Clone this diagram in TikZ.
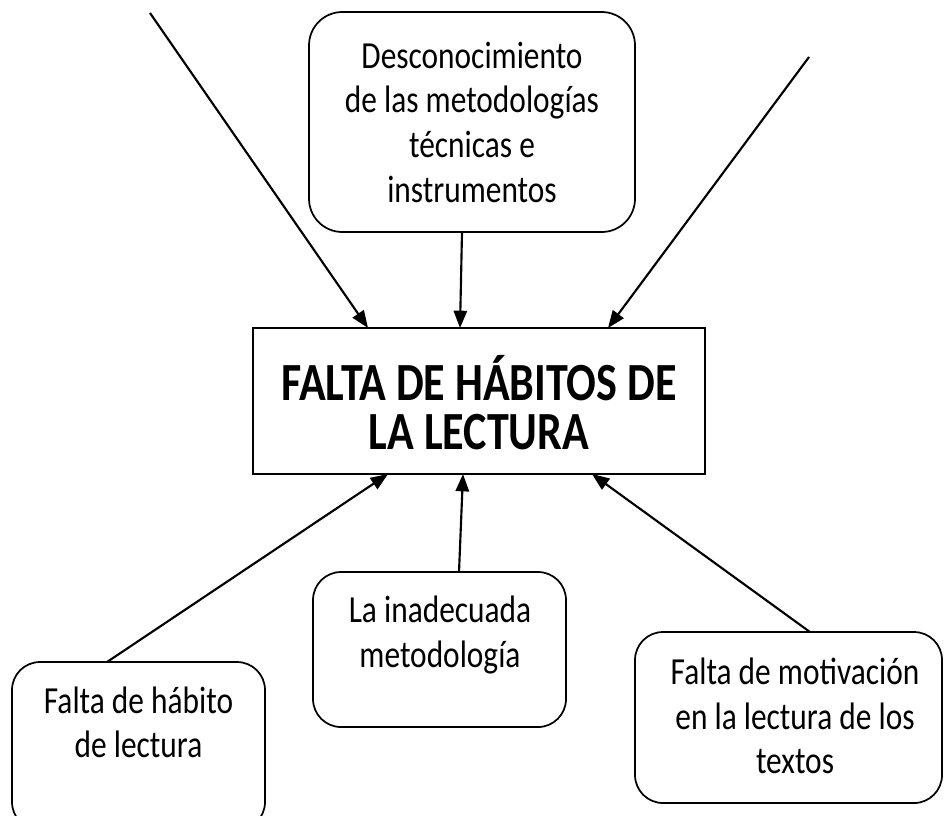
\documentclass[tikz,border=0pt]{standalone}
\usepackage{fontspec}
\setmainfont{Carlito}[FakeStretch=0.82]
\usetikzlibrary{arrows.meta,fit}
\begin{document}
\begin{tikzpicture}[x=0.75pt,y=-0.75pt,
  boxline/.style={draw,line width=1.3pt,inner sep=0pt,outer sep=0pt},
  rbox/.style={boxline,rounded corners=21pt},
  tbox/.style={boxline,rounded corners=25pt},
  txt/.style={anchor=north,inner sep=0pt,align=center,font=\fontsize{28.7}{33.5}\selectfont},
  ttl/.style={anchor=north,inner sep=0pt,align=center,font=\fontsize{40.3}{37}\selectfont\bfseries},
  conn/.style={line width=1.6pt,-{Triangle[length=13pt,width=10pt]}}]
\useasboundingbox (0,0) rectangle (944,815);
\clip (0,0) rectangle (944,815);
% boxes
\node[tbox,fit={(309,12) (635,232)}] (des) {};
\node[boxline,fit={(253,328) (705,474)}] (main) {};
\node[rbox,fit={(313,572) (566,727)}] (ina) {};
\node[rbox,fit={(12,662) (265,830)}] (hab) {};
\node[rbox,fit={(635,632) (942,803)}] (mot) {};
% texts
\node[txt] (destxt) at (472,38.5) {\rule{0pt}{22pt}Desconocimiento\\de las metodologías\\técnicas e\\instrumentos};
\node[ttl] (maintxt) at (479,355) {\rule{0pt}{28pt}FALTA DE HÁBITOS DE\\LA LECTURA};
\node[txt] (inatxt) at (440,593) {\rule{0pt}{22pt}La inadecuada\\metodología};
\node[txt] (habtxt) at (138.5,683.5) {\rule{0pt}{22pt}Falta de hábito\\de lectura};
\node[txt] (mottxt) at (795,655) {\rule{0pt}{22pt}Falta de motivación\\en la lectura de los\\textos};
% connectors
\coordinate (c1) at (150,13);
\coordinate (c3) at (809,57);
\draw[conn] (c1) -- ([xshift=86.25pt]main.north west);
\draw[conn] ([xshift=114.75pt]des.south west) -- ([xshift=155.25pt]main.north west);
\draw[conn] (c3) -- ([xshift=266.25pt]main.north west);
\draw[conn] ([xshift=71.25pt]hab.north west) -- ([xshift=101.25pt]main.south west);
\draw[conn] ([xshift=109.5pt]ina.north west) -- ([xshift=157.5pt]main.south west);
\draw[conn] ([xshift=131.25pt]mot.north west) -- ([xshift=254.25pt]main.south west);
\end{tikzpicture}
\end{document}
